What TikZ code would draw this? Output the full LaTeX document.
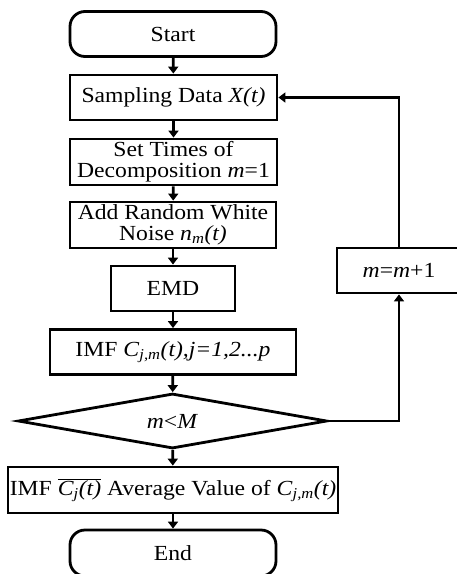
\documentclass[tikz,border=0pt]{standalone}
\usepackage{fontspec}
\setmainfont[FakeStretch=1.1]{Liberation Serif}
\usetikzlibrary{arrows.meta,shapes.geometric}
\tikzset{
  box/.style={draw, line width=2.8pt, minimum height=45pt, inner sep=0pt,
    align=center, font=\fontsize{21.5}{21}\selectfont},
  term/.style={box, rounded corners=15pt},
  decision/.style={draw, line width=2.8pt, shape=diamond, inner sep=0pt,
    minimum width=309pt, minimum height=55pt, aspect=5.6,
    font=\fontsize{21.5}{21}\selectfont},
  flow/.style={line width=2.8pt, -{Triangle[length=7pt,width=10pt]}}
}
\newcommand{\ital}[1]{\textit{#1}}
\newcommand{\sub}[1]{\textsubscript{\ital{#1}}}
\begin{document}
\begin{tikzpicture}[x=1pt,y=-1pt]
  \useasboundingbox (0,0) rectangle (457,574);
  \node[term, minimum width=206pt] (start) at (173,34) {Start};
  \node[box, minimum width=207pt] (samp) at (173.5,97.5) {Sampling Data \ital{X(t)}};
  \node[box, minimum width=207pt, minimum height=46pt] (times) at (173.5,162)
    {Set Times of\\Decomposition \ital{m}=1};
  \node[box, minimum width=206pt, minimum height=46pt] (noise) at (173,225)
    {Add Random White\\Noise \ital{n}\sub{m}\ital{(t)}};
  \node[box, minimum width=124pt] (emd) at (173,288.5) {EMD};
  \node[box, minimum width=246pt] (imf) at (173,352)
    {IMF \ital{C}\sub{j,m}\ital{(t),j=1,2...p}};
  \node[decision] (dec) at (172.5,421) {\ital{m}<\ital{M}};
  \node[box, minimum width=330pt, minimum height=46pt] (avg) at (173,490)
    {IMF $\overline{\hbox{\ital{C}\sub{j}\ital{(t)}}}$ Average Value of \ital{C}\sub{j,m}\ital{(t)}};
  \node[term, minimum width=206pt, minimum height=46pt] (end) at (173,553) {End};
  \node[box, minimum width=124pt] (inc) at (399,270.5) {\ital{m}=\ital{m}+1};

  \draw[flow] (start) -- (samp);
  \draw[flow] (samp) -- (times);
  \draw[flow] (times) -- (noise);
  \draw[flow] (noise) -- (emd);
  \draw[flow] (emd) -- (imf);
  \draw[flow] (imf) -- (dec);
  \draw[flow] (dec) -- (avg);
  \draw[flow] (avg) -- (end);
  \draw[flow] (dec.east) -| (inc.south);
  \draw[flow] (inc.north) |- (samp.east);
\end{tikzpicture}
\end{document}
